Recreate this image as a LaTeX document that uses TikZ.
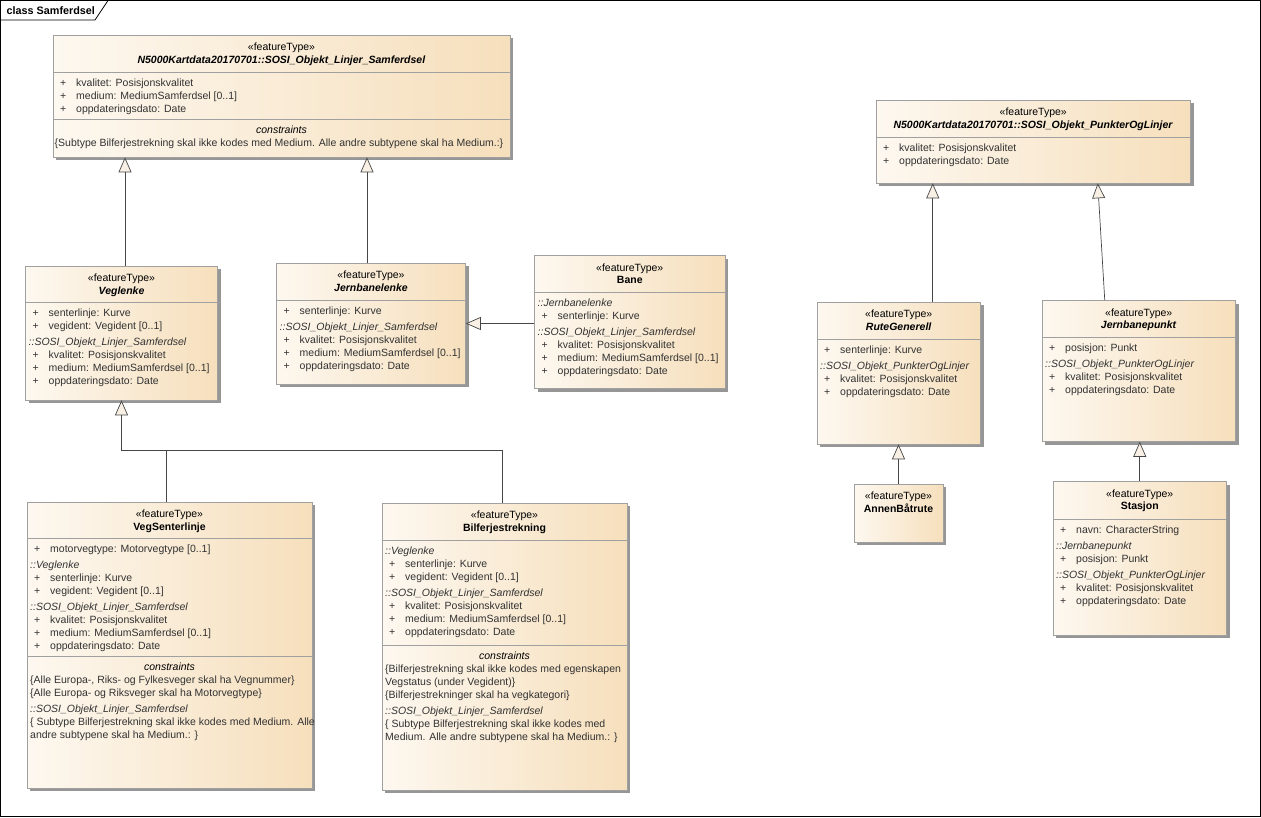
\documentclass[tikz,border=0pt]{standalone}
\usepackage{fontspec}
\setmainfont{Liberation Sans}
\usetikzlibrary{arrows.meta,shadows,fit}
\definecolor{boxL}{RGB}{253,248,240}
\definecolor{boxR}{RGB}{246,223,188}
\definecolor{boxE}{RGB}{160,160,160}
\definecolor{shad}{RGB}{150,150,150}
\definecolor{attr}{RGB}{50,50,50}
\definecolor{linec}{RGB}{70,70,70}
\definecolor{arrf}{RGB}{248,240,228}
\newcommand\pl{\makebox[20pt][l]{\hspace{4pt}+}}
\tikzset{
  classbox/.style={draw=boxE, line width=0.6pt, left color=boxL, right color=boxR, inner sep=0pt,
    drop shadow={shadow xshift=3pt, shadow yshift=-3pt, fill=shad, opacity=1}},
  hdr/.style={font=\fontsize{10.5}{12.5}\selectfont, align=center, inner sep=0pt, anchor=north},
  att/.style={font=\fontsize{10.5}{13}\selectfont, align=left, inner sep=0pt, anchor=north west, text=attr},
  chd/.style={font=\fontsize{10.5}{13}\selectfont\itshape, inner sep=0pt, anchor=base},
  div/.style={draw=boxE, line width=0.6pt},
  gen/.style={draw=linec, line width=0.7pt, -{Triangle[length=15pt, width=13pt, fill=arrf]}},
  genline/.style={draw=linec, line width=0.7pt},
}
\begin{document}
\begin{tikzpicture}[x=1pt,y=-1pt]
\useasboundingbox (0,0) rectangle (1261,817);
% frame
\draw[black, line width=0.8pt] (0.5,0.5) rectangle (1260.5,816.5);
\draw[black, line width=0.8pt] (0.5,20) -- (95,20) -- (108,0.5);
\node[anchor=west, inner sep=0pt, font=\bfseries\fontsize{10.8}{12}\selectfont] (framelabel) at (6.5,11) {class Samferdsel};

% ---------- classes ----------
\node[classbox, fit={(53,35) (510,157)}] (top) {};
\node[classbox, fit={(25.5,266) (217.5,400)}] (vl) {};
\node[classbox, fit={(276.5,263) (465.5,384)}] (jl) {};
\node[classbox, fit={(534.5,255.5) (725,388.5)}] (bane) {};
\node[classbox, fit={(876,100) (1190.5,183)}] (pol) {};
\node[classbox, fit={(817,302) (980.5,444)}] (rg) {};
\node[classbox, fit={(1042,300.5) (1235.5,441.5)}] (jp) {};
\node[classbox, fit={(854,484) (943,542)}] (ab) {};
\node[classbox, fit={(1053,481.5) (1226.5,635)}] (st) {};
\node[classbox, fit={(27,502) (312,788)}] (vs) {};
\node[classbox, fit={(382,503) (627,790)}] (bf) {};

% dividers
\draw[div] (53,72) -- (510,72);
\draw[div] (53,119) -- (510,119);
\draw[div] (25.5,302) -- (217.5,302);
\draw[div] (276.5,300) -- (465.5,300);
\draw[div] (534.5,292.5) -- (725,292.5);
\draw[div] (876,137) -- (1190.5,137);
\draw[div] (817,339) -- (980.5,339);
\draw[div] (1042,337) -- (1235.5,337);
\draw[div] (1053,519) -- (1226.5,519);
\draw[div] (27,538) -- (312,538);
\draw[div] (27,656) -- (312,656);
\draw[div] (382,540) -- (627,540);
\draw[div] (382,645) -- (627,645);

% headers
\node[hdr] (top-h) at (281.5,43) {«featureType»\\\textbf{\textit{N5000Kartdata20170701::SOSI\_Objekt\_Linjer\_Samferdsel}}};
\node[hdr] (vl-h) at (121.5,274) {«featureType»\\\textbf{\textit{Veglenke}}};
\node[hdr] (jl-h) at (371,271) {«featureType»\\\textbf{\textit{Jernbanelenke}}};
\node[hdr] (bane-h) at (629.75,263.5) {«featureType»\\\textbf{Bane}};
\node[hdr] (pol-h) at (1033.25,108) {«featureType»\\\textbf{\textit{N5000Kartdata20170701::SOSI\_Objekt\_PunkterOgLinjer}}};
\node[hdr] (rg-h) at (898.75,310) {«featureType»\\\textbf{\textit{RuteGenerell}}};
\node[hdr] (jp-h) at (1138.75,308.5) {«featureType»\\\textbf{\textit{Jernbanepunkt}}};
\node[hdr] (ab-h) at (898.5,492) {«featureType»\\\textbf{AnnenBåtrute}};
\node[hdr] (st-h) at (1139.75,489.5) {«featureType»\\\textbf{Stasjon}};
\node[hdr] (vs-h) at (169.5,510) {«featureType»\\\textbf{VegSenterlinje}};
\node[hdr] (bf-h) at (504.5,511) {«featureType»\\\textbf{Bilferjestrekning}};

% attributes
\node[att] (top-a) at (56,78.5) {\pl kvalitet: Posisjonskvalitet\\\pl medium: MediumSamferdsel [0..1]\\\pl oppdateringsdato: Date};
\node[att] (vl-a) at (28.5,308.5) {\pl senterlinje: Kurve\\\pl vegident: Vegident [0..1]\\[3pt]\textit{::SOSI\_Objekt\_Linjer\_Samferdsel}\\\pl kvalitet: Posisjonskvalitet\\\pl medium: MediumSamferdsel [0..1]\\\pl oppdateringsdato: Date};
\node[att] (jl-a) at (279.5,306.5) {\pl senterlinje: Kurve\\[3pt]\textit{::SOSI\_Objekt\_Linjer\_Samferdsel}\\\pl kvalitet: Posisjonskvalitet\\\pl medium: MediumSamferdsel [0..1]\\\pl oppdateringsdato: Date};
\node[att] (bane-a) at (537.5,299) {\textit{::Jernbanelenke}\\\pl senterlinje: Kurve\\[3pt]\textit{::SOSI\_Objekt\_Linjer\_Samferdsel}\\\pl kvalitet: Posisjonskvalitet\\\pl medium: MediumSamferdsel [0..1]\\\pl oppdateringsdato: Date};
\node[att] (pol-a) at (879,143.5) {\pl kvalitet: Posisjonskvalitet\\\pl oppdateringsdato: Date};
\node[att] (rg-a) at (820,345.5) {\pl senterlinje: Kurve\\[3pt]\textit{::SOSI\_Objekt\_PunkterOgLinjer}\\\pl kvalitet: Posisjonskvalitet\\\pl oppdateringsdato: Date};
\node[att] (jp-a) at (1045,343.5) {\pl posisjon: Punkt\\[3pt]\textit{::SOSI\_Objekt\_PunkterOgLinjer}\\\pl kvalitet: Posisjonskvalitet\\\pl oppdateringsdato: Date};
\node[att] (st-a) at (1056,525.5) {\pl navn: CharacterString\\[3pt]\textit{::Jernbanepunkt}\\\pl posisjon: Punkt\\[3pt]\textit{::SOSI\_Objekt\_PunkterOgLinjer}\\\pl kvalitet: Posisjonskvalitet\\\pl oppdateringsdato: Date};
\node[att] (vs-a) at (30,544.5) {\pl motorvegtype: Motorvegtype [0..1]\\[3pt]\textit{::Veglenke}\\\pl senterlinje: Kurve\\\pl vegident: Vegident [0..1]\\[3pt]\textit{::SOSI\_Objekt\_Linjer\_Samferdsel}\\\pl kvalitet: Posisjonskvalitet\\\pl medium: MediumSamferdsel [0..1]\\\pl oppdateringsdato: Date};
\node[att] (bf-a) at (385,546.5) {\textit{::Veglenke}\\\pl senterlinje: Kurve\\\pl vegident: Vegident [0..1]\\[3pt]\textit{::SOSI\_Objekt\_Linjer\_Samferdsel}\\\pl kvalitet: Posisjonskvalitet\\\pl medium: MediumSamferdsel [0..1]\\\pl oppdateringsdato: Date};

% constraints
\node[chd] (top-ch) at (281.5,133) {constraints};
\node[att] (top-c) at (54.5,138.8) {\{Subtype Bilferjestrekning skal ikke kodes med Medium. Alle andre subtypene skal ha Medium.:\}};
\node[chd] (vs-ch) at (169.5,670) {constraints};
\node[att] (vs-c) at (30,675.8) {\{Alle Europa-, Riks- og Fylkesveger skal ha Vegnummer\}\\\{Alle Europa- og Riksveger skal ha Motorvegtype\}\\[3pt]\textit{::SOSI\_Objekt\_Linjer\_Samferdsel}\\\{ Subtype Bilferjestrekning skal ikke kodes med Medium. Alle\\andre subtypene skal ha Medium.: \}};
\node[chd] (bf-ch) at (504.5,659) {constraints};
\node[att] (bf-c) at (385,664.8) {\{Bilferjestrekning skal ikke kodes med egenskapen\\Vegstatus (under Vegident)\}\\\{Bilferjestrekninger skal ha vegkategori\}\\[3pt]\textit{::SOSI\_Objekt\_Linjer\_Samferdsel}\\\{ Subtype Bilferjestrekning skal ikke kodes med\\Medium. Alle andre subtypene skal ha Medium.: \}};

% ---------- generalizations ----------
\path ([xshift=3.5pt]vl.north) coordinate (vl-t);
\draw[gen] (vl-t) -- (vl-t |- top.south);
\path ([xshift=-4pt]jl.north) coordinate (jl-t);
\draw[gen] (jl-t) -- (jl-t |- top.south);
\draw[gen] (bane.west |- jl.east) -- (jl.east);
\path ([xshift=-3.5pt]vs.north) coordinate (vs-t);
\path ([xshift=-2.5pt]bf.north) coordinate (bf-t);
\coordinate (gj) at (121.5,450);
\draw[genline] (bf-t) |- (gj);
\draw[gen] (vs-t) |- (gj) -- (vl.south);
\path ([xshift=34pt]rg.north) coordinate (rg-t);
\draw[gen] (rg-t) -- (rg-t |- pol.south);
\path ([xshift=-34pt]jp.north) coordinate (jp-t);
\path ([xshift=64.5pt]pol.south) coordinate (pol-b);
\draw[gen] (jp-t) -- (pol-b);
\draw[gen] (ab.north) -- (ab.north |- rg.south);
\draw[gen] (st.north) -- (st.north |- jp.south);
\end{tikzpicture}
\end{document}
